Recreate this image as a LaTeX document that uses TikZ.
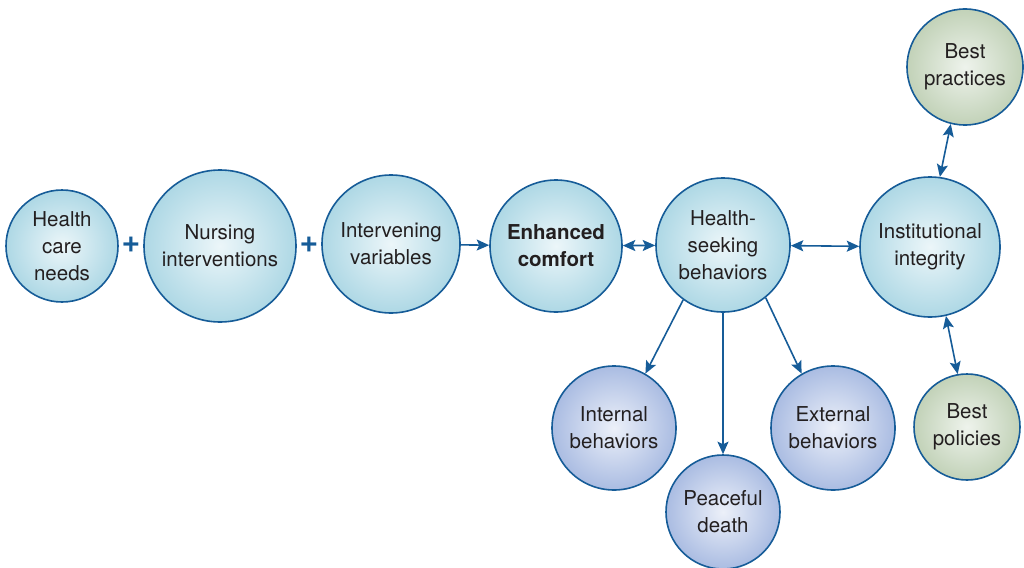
\documentclass[tikz,border=0pt]{standalone}
\usepackage{fontspec}
\setmainfont{TeX Gyre Heros}
\usetikzlibrary{arrows.meta}
\definecolor{edgeblue}{RGB}{22,92,152}
\definecolor{cyanin}{RGB}{236,246,249}
\definecolor{cyanout}{RGB}{174,216,229}
\definecolor{lavin}{RGB}{236,240,249}
\definecolor{lavout}{RGB}{170,188,226}
\definecolor{grnin}{RGB}{238,243,236}
\definecolor{grnout}{RGB}{194,210,184}
\definecolor{txt}{RGB}{35,31,32}
\tikzset{
  bub/.style={circle, draw=edgeblue, line width=1.6pt, inner sep=0pt, align=center,
    text=txt, font=\fontsize{20.5}{27}\selectfont, minimum size=#1},
  cbub/.style={bub=#1, inner color=cyanin, outer color=cyanout},
  lbub/.style={bub=#1, inner color=lavin, outer color=lavout},
  gbub/.style={bub=#1, inner color=grnin, outer color=grnout},
  conn/.style={draw=edgeblue, line width=1.6pt, -{Stealth[length=12.5pt,width=11pt,inset=2.5pt]}},
  dconn/.style={draw=edgeblue, line width=1.6pt, {Stealth[length=12.5pt,width=11pt,inset=2.5pt]}-{Stealth[length=12.5pt,width=11pt,inset=2.5pt]}},
  plus/.style={text=edgeblue, font=\fontsize{32}{32}\selectfont\bfseries, inner sep=0pt}
}
\begin{document}
\begin{tikzpicture}[x=1pt,y=-1pt]
\useasboundingbox (0,0) rectangle (1024,567);
\node[cbub=112pt] (hcn) at (62,246) {Health\\care\\needs};
\node[cbub=152pt] (ni) at (220,246) {Nursing\\interventions};
\node[cbub=138pt] (iv) at (391,244) {Intervening\\variables};
\node[cbub=132pt, font=\fontsize{20.5}{27}\selectfont\bfseries] (ec) at (556,246) {Enhanced\\comfort};
\node[cbub=134pt] (hs) at (723,245) {Health-\\seeking\\behaviors};
\node[cbub=140pt] (ii) at (930,247) {Institutional\\integrity};
\node[gbub=116pt] (bp) at (965,67) {Best\\practices};
\node[gbub=106pt] (bpo) at (967,427) {Best\\policies};
\node[lbub=124pt] (ib) at (614,428) {Internal\\behaviors};
\node[lbub=114pt] (pd) at (723,512) {Peaceful\\death};
\node[lbub=124pt] (eb) at (833,428) {External\\behaviors};
\node[plus] (p1) at (131,245) {+};
\node[plus] (p2) at (309,245) {+};
\draw[conn] (iv) -- (ec);
\draw[dconn] (ec) -- (hs);
\draw[dconn] (hs) -- (ii);
\draw[dconn] (bp.256) -- (ii.82);
\draw[dconn] (ii.283) -- (bpo.100);
\draw[conn] (hs.234) -- (ib.60);
\draw[conn] (hs.south) -- (pd.north);
\draw[conn] (hs.309) -- (eb.120);
\end{tikzpicture}
\end{document}
